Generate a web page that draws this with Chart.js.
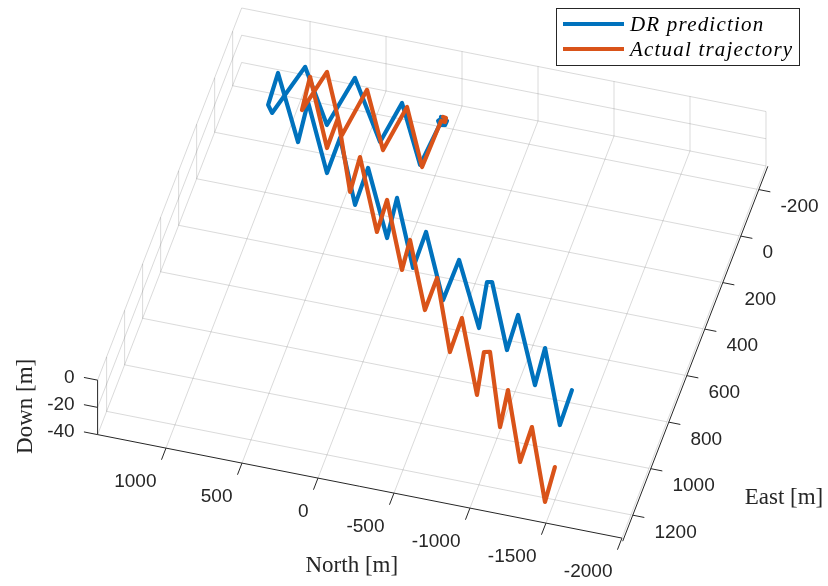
<!DOCTYPE html>
<html>
<head>
<meta charset="utf-8">
<script src="https://cdn.jsdelivr.net/npm/chart.js@4/dist/chart.umd.min.js"></script>
<style>
  html, body { margin: 0; padding: 0; background: #ffffff; }
  #wrap { width: 828px; height: 586px; }
</style>
</head>
<body>
<div id="wrap"><canvas id="chart" width="828" height="586"></canvas></div>
<script>
// Horizontal track of the vehicle, North / East in metres (plotted at Down = 0)
const northDR = [-26, -72, -70, -39, -18, -41, -12, 245, 287, 592, 652, 923, 1016, 1059, 1074, 788, 822, 538,
                 541, 291, 299, 17, 51, -213, -207, -472, -475, -758, -698, -729, -981, -966, -1235, -1209, -1482, -1473];
const eastDR = [-22, -11, 7, 11, -4, -20, 186, -47, 126, -110, 100, -115, 95, 66, -69, 191, 23, 292,
                141, 397, 239, 504, 336, 603, 449, 708, 535, 791, 601, 597, 857, 708, 975, 819, 1115, 966];
const northActual = [-39, -59, -63, -36, -29, 205, 250, 490, 536, 777, 840, 869, 597, 601, 352, 374, 93,
                     107, -150, -128, -385, -383, -637, -630, -904, -845, -882, -1121, -1082, -1326, -1316, -1573, -1551];
const eastActual = [-24, -22, -5, -6, 193, -35, 156, -72, 128, -112, 60, -79, 192, 63, 349, 202, 488,
                    352, 620, 494, 762, 624, 910, 765, 1060, 883, 878, 1170, 1016, 1294, 1145, 1434, 1287];
const trackDown = 0;

const seriesNames = ['DR prediction', 'Actual trajectory'];
const seriesColors = ['#0072BD', '#D95319'];

// Axis limits and ticks
const northLimits = [-2000, 1450];
const eastLimits = [-300, 1300];
const downLimits = [-40, 0];
const northTicks = [-2000, -1500, -1000, -500, 0, 500, 1000];
const eastTicks = [-200, 0, 200, 400, 600, 800, 1000, 1200];
const downTicks = [-40, -20, 0];

// 3-D camera: orthographic view of the normalised plot box
const W = 828, H = 586;
const view = { azimuth: 195.45, elevation: 45.56, boxAspect: [1, 0.994, 0.143], pxPerUnit: 544, boxCentre: [431.8, 273.05] };
const DEG = Math.PI / 180;
const ca = Math.cos(view.azimuth * DEG), sa = Math.sin(view.azimuth * DEG);
const se = Math.sin(view.elevation * DEG), ce = Math.cos(view.elevation * DEG);

function norm(v, lim, k) { return (v - (lim[0] + lim[1]) / 2) / (lim[1] - lim[0]) * k; }
function project(n, e, d) {
  const X = norm(n, northLimits, view.boxAspect[0]);
  const Y = norm(e, eastLimits, view.boxAspect[1]);
  const Z = norm(d, downLimits, view.boxAspect[2]);
  return { x: ca * X + sa * Y, y: -se * sa * X + se * ca * Y + ce * Z };
}
const GAP = { x: null, y: null };

function track(north, east) {
  return north.map((n, i) => project(n, east[i], trackDown));
}

// Grid: floor and the two far walls
const gridPts = [];
function seg(list, a, b) { list.push(project(a[0], a[1], a[2]), project(b[0], b[1], b[2]), GAP); }
const [n0, n1] = northLimits, [e0, e1] = eastLimits, [d0, d1] = downLimits;
northTicks.forEach(n => seg(gridPts, [n, e0, d0], [n, e1, d0]));
eastTicks.forEach(e => seg(gridPts, [n0, e, d0], [n1, e, d0]));
downTicks.forEach(d => seg(gridPts, [n0, e0, d], [n1, e0, d]));
northTicks.forEach(n => seg(gridPts, [n, e0, d0], [n, e0, d1]));
downTicks.forEach(d => seg(gridPts, [n1, e0, d], [n1, e1, d]));
eastTicks.forEach(e => seg(gridPts, [n1, e, d0], [n1, e, d1]));

// Axis lines and tick marks
const axisPts = [];
seg(axisPts, [n1, e1, d0], [n0, e1, d0]);
seg(axisPts, [n0 - 12, e0, d0], [n0 - 12, e1 + 12, d0]);
seg(axisPts, [n1, e1, d0], [n1, e1, d1]);
const tickN = 50, tickE = 88, tickZ = 90;
northTicks.forEach(n => seg(axisPts, [n, e1, d0], [n, e1 + tickN, d0]));
eastTicks.forEach(e => seg(axisPts, [n0 - 12, e, d0], [n0 - tickE, e, d0]));
downTicks.forEach(d => seg(axisPts, [n1, e1, d], [n1 + tickZ, e1, d]));

const S = view.pxPerUnit;
const xRange = { min: -view.boxCentre[0] / S, max: (W - view.boxCentre[0]) / S };
const yRange = { min: -(H - view.boxCentre[1]) / S, max: view.boxCentre[1] / S };

const INK = '#262626';
const tickFont = '19px "Liberation Sans", Arial, sans-serif';
const titleFont = '23px "Liberation Serif", "Times New Roman", serif';
const legendFont = 'italic 21px "Liberation Serif", "Times New Roman", serif';

function toPx(chart, p) {
  return [chart.scales.x.getPixelForValue(p.x), chart.scales.y.getPixelForValue(p.y)];
}
function fmt(v) { return String(v); }

const axesText = {
  id: 'axesText',
  afterDatasetsDraw(chart) {
    const c = chart.ctx;
    c.save();
    c.fillStyle = INK;
    c.font = tickFont;
    c.textBaseline = 'middle';
    // North tick labels
    c.textAlign = 'right';
    northTicks.forEach(n => {
      const [x, y] = toPx(chart, project(n, e1, d0));
      c.fillText(fmt(n), x - 9.5, y + 34);
    });
    // East tick labels
    c.textAlign = 'left';
    eastTicks.forEach(e => {
      const [x, y] = toPx(chart, project(n0, e, d0));
      c.fillText(fmt(e), x + 23.5, y + 17.5);
    });
    // Down tick labels
    c.textAlign = 'right';
    downTicks.forEach(d => {
      const [x, y] = toPx(chart, project(n1, e1, d));
      c.fillText(fmt(d), x - 23, y - 2.5);
    });
    // Axis titles
    c.font = titleFont;
    c.textAlign = 'center';
    let [x, y] = toPx(chart, project((n0 + n1) / 2, e1, d0));
    c.fillText('North [m]', x - 8, y + 80);
    [x, y] = toPx(chart, project(n0, e1, d0));
    c.fillText('East [m]', x + 162, y - 40);
    [x, y] = toPx(chart, project(n1, e1, (d0 + d1) / 2));
    c.save();
    c.translate(x - 72, y - 1);
    c.rotate(-Math.PI / 2);
    c.fillText('Down [m]', 0, 0);
    c.restore();
    c.restore();
  },
  afterDraw(chart) {
    // Legend box, upper right
    const c = chart.ctx;
    const box = { left: 556.5, top: 8.5, width: 243, height: 57 };
    c.save();
    c.fillStyle = '#ffffff';
    c.fillRect(box.left, box.top, box.width, box.height);
    c.strokeStyle = INK;
    c.lineWidth = 1;
    c.strokeRect(box.left, box.top, box.width, box.height);
    c.font = legendFont;
    if ('letterSpacing' in c) c.letterSpacing = '1.2px';
    c.textBaseline = 'middle';
    c.textAlign = 'left';
    seriesNames.forEach((name, i) => {
      const y = box.top + 15.5 + i * 25;
      c.strokeStyle = seriesColors[i];
      c.lineWidth = 4;
      c.beginPath();
      c.moveTo(box.left + 6.5, y);
      c.lineTo(box.left + 67.5, y);
      c.stroke();
      c.fillStyle = '#000000';
      c.fillText(name, box.left + 73.5, y + 1);
    });
    c.restore();
  }
};

const lineStyle = { showLine: true, pointRadius: 0, pointHoverRadius: 0, tension: 0, spanGaps: false, fill: false };

new Chart(document.getElementById('chart'), {
  type: 'scatter',
  data: {
    datasets: [
      Object.assign({ label: seriesNames[1], data: track(northActual, eastActual), borderColor: seriesColors[1],
        borderWidth: 4.2, borderJoinStyle: 'round', borderCapStyle: 'round', order: 0 }, lineStyle),
      Object.assign({ label: seriesNames[0], data: track(northDR, eastDR), borderColor: seriesColors[0],
        borderWidth: 4.2, borderJoinStyle: 'round', borderCapStyle: 'round', order: 1 }, lineStyle),
      Object.assign({ label: 'axes', data: axisPts, borderColor: INK, borderWidth: 1, order: 2 }, lineStyle),
      Object.assign({ label: 'grid', data: gridPts, borderColor: 'rgba(38,38,38,0.17)', borderWidth: 1, order: 3 }, lineStyle)
    ]
  },
  options: {
    responsive: false,
    animation: false,
    devicePixelRatio: 1,
    events: [],
    layout: { padding: 0 },
    scales: {
      x: { type: 'linear', display: false, bounds: 'data', min: xRange.min, max: xRange.max },
      y: { type: 'linear', display: false, bounds: 'data', min: yRange.min, max: yRange.max }
    },
    plugins: { legend: { display: false }, tooltip: { enabled: false } }
  },
  plugins: [axesText]
});
</script>
</body>
</html>
